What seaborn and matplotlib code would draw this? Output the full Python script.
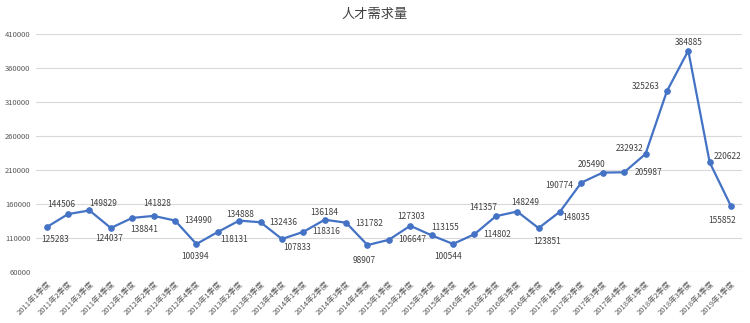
import matplotlib
matplotlib.use("Agg")
import matplotlib.pyplot as plt
import seaborn as sns
import pandas as pd

# Quarterly talent demand
quarters = [
    "2011年1季度", "2011年2季度", "2011年3季度", "2011年4季度",
    "2012年1季度", "2012年2季度", "2012年3季度", "2012年4季度",
    "2013年1季度", "2013年2季度", "2013年3季度", "2013年4季度",
    "2014年1季度", "2014年2季度", "2014年3季度", "2014年4季度",
    "2015年1季度", "2015年2季度", "2015年3季度", "2015年4季度",
    "2016年1季度", "2016年2季度", "2016年3季度", "2016年4季度",
    "2017年1季度", "2017年2季度", "2017年3季度", "2017年4季度",
    "2018年1季度", "2018年2季度", "2018年3季度", "2018年4季度",
    "2019年1季度",
]
demand = [
    125283, 144506, 149829, 124037,
    138841, 141828, 134990, 100394,
    118131, 134888, 132436, 107833,
    118316, 136184, 131782, 98907,
    106647, 127303, 113155, 100544,
    114802, 141357, 148249, 123851,
    148035, 190774, 205490, 205987,
    232932, 325263, 384885, 220622,
    155852,
]
y_ticks = [60000, 110000, 160000, 210000, 260000, 310000, 360000, 410000]
title = "人才需求量"

# Label placement around each marker (pixels: right, down)
label_offsets = [
    (8, 12), (-7, -10), (14, -7), (-2, 11),
    (12, 12), (4, -12), (23, 0), (-1, 12),
    (16, 8), (1, -6), (23, 0), (15, 9),
    (23, 0), (0, -7), (23, 1), (-3, 15),
    (23, 0), (1, -9), (13, -8), (-5, 13),
    (23, 0), (-13, -9), (8, -9), (9, 13),
    (16, 6), (-22, 3), (-11, -8), (24, 0),
    (-16, -5), (-21, -5), (0, -8), (18, -6),
    (-9, 14),
]

sns.set_style("white")
plt.rcParams["font.family"] = ["Noto Sans CJK SC", "DejaVu Sans"]

df = pd.DataFrame({"quarter": quarters, "demand": demand})
df["pos"] = range(len(df))

fig = plt.figure(figsize=(7.5, 3.23), dpi=100)
ax = fig.add_axes([0.048, 0.1594, 0.941, 0.7366])

line_color = "#4472C4"
sns.lineplot(data=df, x="pos", y="demand", ax=ax, color=line_color,
             linewidth=1.6, marker="o", markersize=4,
             markeredgecolor=line_color, markerfacecolor=line_color)

for i, (v, (dx, dy)) in enumerate(zip(demand, label_offsets)):
    ax.annotate(str(v), (i, v), xytext=(dx, -dy), textcoords="offset pixels",
                ha="center", va="center", fontsize=6, color="#404040")

ax.set_xlim(-0.5, len(quarters) - 0.5)
ax.set_ylim(y_ticks[0], y_ticks[-1])
ax.set_yticks(y_ticks)
ax.set_yticklabels([str(t) for t in y_ticks], fontsize=5.5, color="#595959")
ax.set_xticks(range(len(quarters)))
ax.set_xticklabels(quarters, rotation=45, ha="right", va="top",
                   rotation_mode="anchor", fontsize=5.5, color="#595959")
ax.tick_params(axis="both", length=0)
ax.tick_params(axis="y", pad=4)
ax.tick_params(axis="x", pad=6)

ax.grid(axis="y", color="#D9D9D9", linewidth=0.8)
ax.set_axisbelow(True)
for s in ax.spines.values():
    s.set_visible(False)
ax.set_xlabel("")
ax.set_ylabel("")

fig.text(0.5, 1 - 14 / 323, title, ha="center", va="center",
         fontsize=9.5, color="#404040")

fig.savefig("out.png", dpi=100)
